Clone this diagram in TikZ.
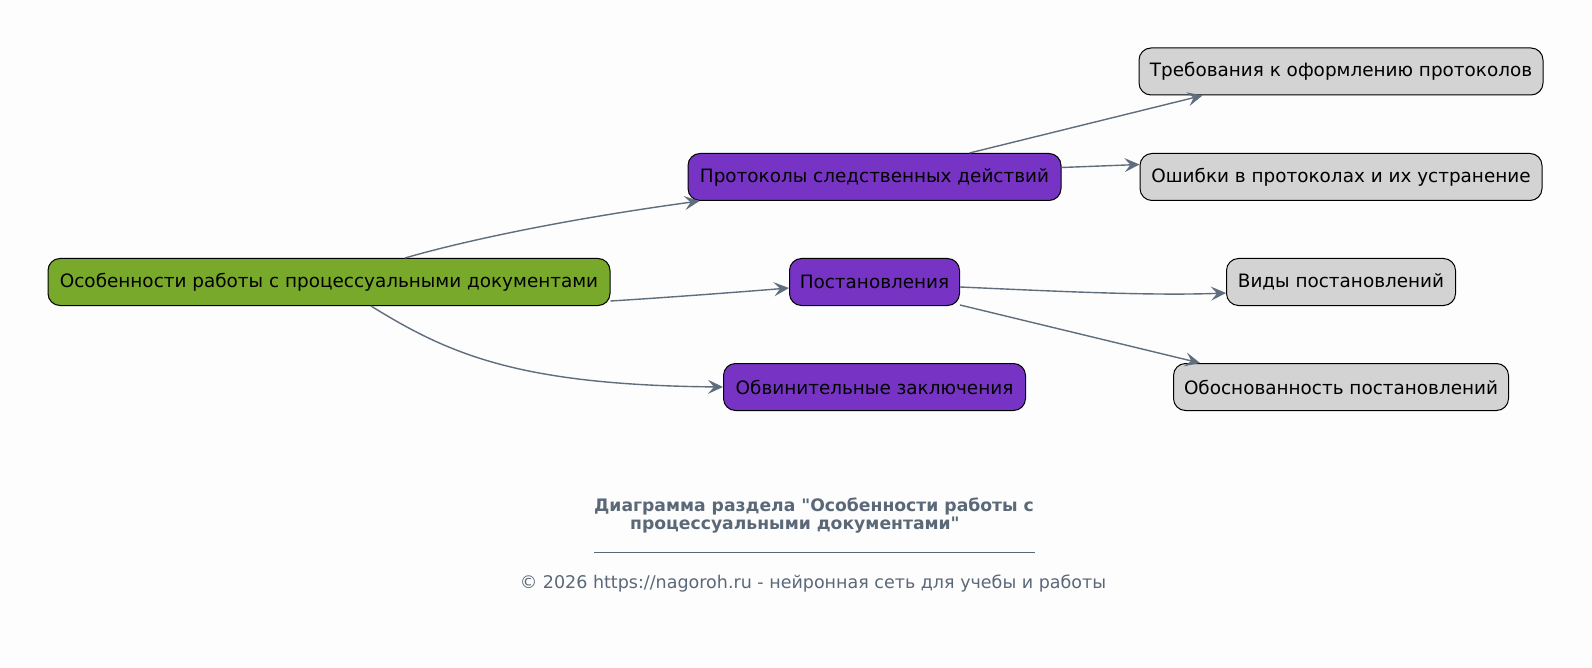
\documentclass[tikz,border=0pt]{standalone}
\usepackage{fontspec}
\setmainfont{DejaVu Sans}[Ligatures=TeXOff]
\usetikzlibrary{arrows.meta,calc}
\definecolor{bgc}{HTML}{FDFDFD}
\definecolor{rootc}{HTML}{78A92B}
\definecolor{purp}{HTML}{7734C4}
\definecolor{grayc}{HTML}{D3D3D3}
\definecolor{edgec}{HTML}{5F6D7D}
\definecolor{titlec}{HTML}{5A6878}
\tikzset{
  box/.style={draw=black, line width=1pt, rounded corners=12pt, inner sep=0pt,
    minimum height=47pt, font=\fontsize{18.4}{22}\selectfont, text=black},
  rootbox/.style={box, fill=rootc},
  midbox/.style={box, fill=purp},
  leafbox/.style={box, fill=grayc},
  conn/.style={draw=edgec, line width=1.4pt, -{Stealth[length=15pt,width=14pt,inset=6pt,fill=edgec]}},
  titletext/.style={text=titlec, font=\fontsize{17.2}{20}\selectfont\bfseries, inner sep=0pt},
  foottext/.style={text=titlec, font=\fontsize{17.5}{20}\selectfont, inner sep=0pt},
}
\begin{document}
\begin{tikzpicture}[x=1pt,y=-1pt]
\fill[bgc] (0,0) rectangle (1592,668);
\useasboundingbox (0,0) rectangle (1592,668);
\node[rootbox, minimum width=562pt] (root) at (329,282) {Особенности работы с процессуальными документами};
\node[midbox, minimum width=373pt] (prot) at (874.5,177) {Протоколы следственных действий};
\node[midbox, minimum width=170pt] (post) at (874.5,282) {Постановления};
\node[midbox, minimum width=302pt] (obv) at (874.5,387) {Обвинительные заключения};
\node[leafbox, minimum width=404pt] (treb) at (1341,71.5) {Требования к оформлению протоколов};
\node[leafbox, minimum width=402pt] (osh) at (1341,177) {Ошибки в протоколах и их устранение};
\node[leafbox, minimum width=229pt] (vid) at (1341,282) {Виды постановлений};
\node[leafbox, minimum width=335pt] (obos) at (1341,387) {Обоснованность постановлений};
% connectors
\path[conn] ($(root.north)+(76,0)$) .. controls (460,242) and (560,220) .. ($(prot.south west)+(12,0)$);
\path[conn] ($(root.south east)+(0,-5)$) .. controls (660,298) and (740,292) .. ($(post.west)+(0,6)$);
\path[conn] ($(root.south)+(42,0)$) .. controls (450,355) and (520,385) .. (obv.west);
\path[conn] ($(prot.north)+(95,0)$) -- ($(treb.south west)+(64,0)$);
\path[conn] ($(prot.east)+(0,-9.5)$) -- ($(osh.west)+(0,-12.5)$);
\path[conn] ($(post.east)+(0,5)$) .. controls (1050,291) and (1150,296) .. ($(vid.west)+(0,11)$);
\path[conn] ($(post.south east)+(0,-1)$) -- ($(obos.north west)+(27,0)$);
% title and footer
\node[titletext] (t1) at (814,506) {Диаграмма раздела "Особенности работы с};
\node[titletext, anchor=west] (t2) at (630,525) {процессуальными документами"};
\coordinate (la) at (594,552);
\coordinate (lb) at (1035,552);
\draw[titlec, line width=0.8pt] (la) -- (lb);
\node[foottext] (foot) at (813,584) {© 2026 https://nagoroh.ru - нейронная сеть для учебы и работы};
\end{tikzpicture}
\end{document}
